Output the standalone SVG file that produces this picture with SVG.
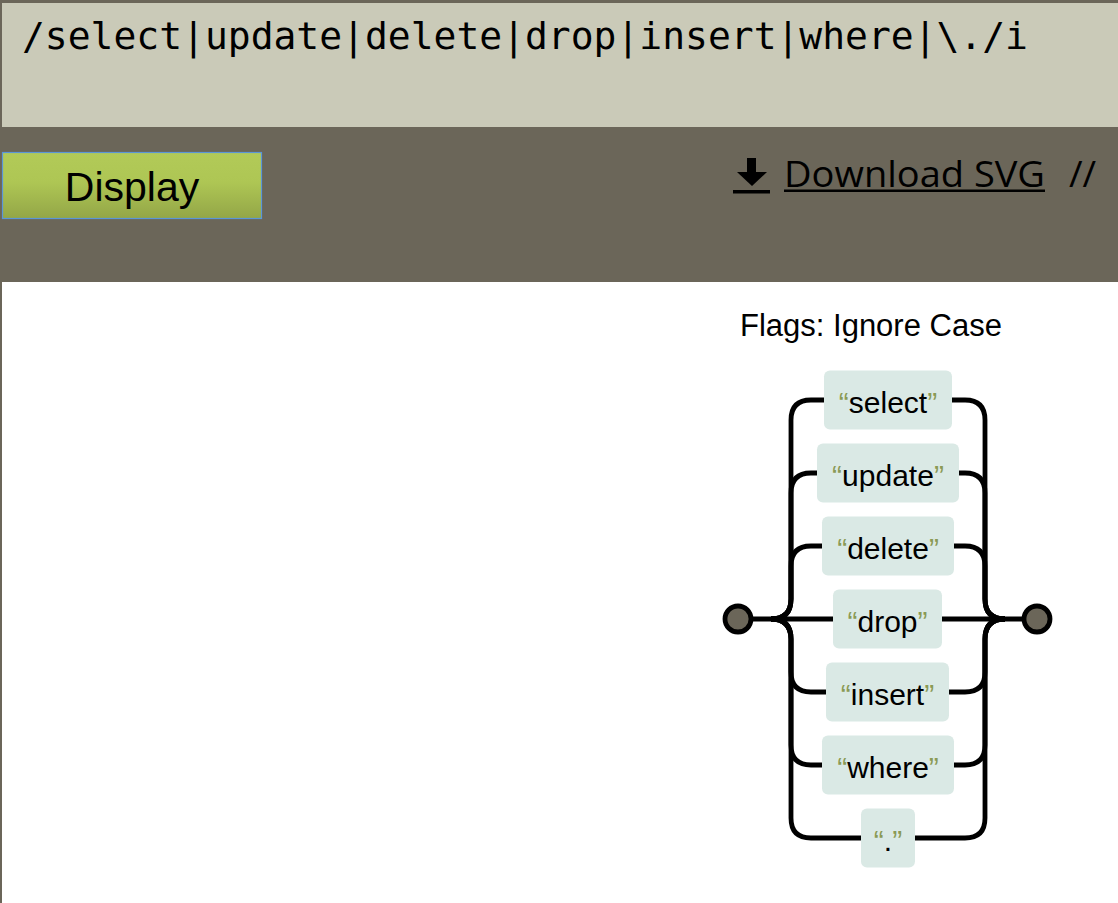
<svg xmlns="http://www.w3.org/2000/svg" width="1118" height="903" viewBox="0 0 1118 903">
<style>
.node rect{fill:#dae9e5}
.node text{font-family:"Liberation Sans",Arial,sans-serif;font-size:30px;fill:#000;text-anchor:middle}
.q{fill:#8a9a55}
.conn path{fill:none;stroke:#000;stroke-width:4.8}
.term{fill:#6b6659;stroke:#000;stroke-width:4.8}
</style>
<rect x="0" y="0" width="1118" height="903" fill="#fff"/>
<rect x="0" y="0" width="1118" height="282" fill="#6b6659"/>
<rect x="2" y="3" width="1116" height="124" fill="#cacab8"/>
<rect x="0" y="0" width="2" height="903" fill="#6b6659"/>
<text x="22" y="49" font-family="'DejaVu Sans Mono',monospace" font-size="38" fill="#000" textLength="1006" lengthAdjust="spacingAndGlyphs">/select|update|delete|drop|insert|where|\./i</text>
<defs>
<linearGradient id="btn" x1="0" y1="0" x2="0" y2="1">
<stop offset="0" stop-color="#b2ca58"/>
<stop offset="0.45" stop-color="#aec654"/>
<stop offset="1" stop-color="#93a647"/>
</linearGradient>
</defs>
<g id="display-button">
<rect x="2.5" y="152.5" width="259" height="66" fill="url(#btn)" stroke="#5a96d8" stroke-width="1.2"/>
<text x="132" y="201" font-family="'Liberation Sans',Arial,sans-serif" font-size="41" text-anchor="middle" fill="#000">Display</text>
</g>
<g id="download">
<rect x="747" y="158" width="9" height="15" fill="#000"/>
<polygon points="737,172 767,172 752,186" fill="#000"/>
<rect x="733" y="190" width="37" height="3.5" fill="#000"/>
<text x="784" y="187" font-family="'Open Sans',sans-serif" font-size="37" fill="#000" textLength="261" lengthAdjust="spacingAndGlyphs">Download SVG</text>
<rect x="784" y="189.5" width="261" height="2.5" fill="#000"/>
<text x="1069" y="187" font-family="'Open Sans',sans-serif" font-size="37" fill="#000">//</text>
</g>
<text x="740" y="336" font-family="'Liberation Sans',Arial,sans-serif" font-size="31" fill="#000">Flags: Ignore Case</text>
<g class="conn" id="connectors">
<path d="M751,619 H833"/>
<path d="M942,619 H1024"/>
<path d="M771,619 q20,0 20,-20 V420 q0,-20 20,-20 H824"/>
<path d="M771,619 q20,0 20,-20 V493 q0,-20 20,-20 H817"/>
<path d="M771,619 q20,0 20,-20 V566 q0,-20 20,-20 H822"/>
<path d="M771,619 q20,0 20,20 V672 q0,20 20,20 H826"/>
<path d="M771,619 q20,0 20,20 V745 q0,20 20,20 H822"/>
<path d="M771,619 q20,0 20,20 V818 q0,20 20,20 H861"/>
<path d="M952,400 H965 q20,0 20,20 V599 q0,20 20,20"/>
<path d="M959,473 H965 q20,0 20,20 V599 q0,20 20,20"/>
<path d="M954,546 H965 q20,0 20,20 V599 q0,20 20,20"/>
<path d="M949,692 H965 q20,0 20,-20 V639 q0,-20 20,-20"/>
<path d="M954,765 H965 q20,0 20,-20 V639 q0,-20 20,-20"/>
<path d="M915,838 H965 q20,0 20,-20 V639 q0,-20 20,-20"/>
</g>
<g id="start"><circle class="term" cx="738" cy="619" r="13"/></g>
<g id="end"><circle class="term" cx="1037" cy="619" r="13"/></g>
<g class="node" id="n-select"><rect x="824" y="370.5" width="128" height="59" rx="6"/><text x="888" y="412.5"><tspan class="q">“</tspan>select<tspan class="q">”</tspan></text></g>
<g class="node" id="n-update"><rect x="817" y="443.5" width="142" height="59" rx="6"/><text x="888" y="485.5"><tspan class="q">“</tspan>update<tspan class="q">”</tspan></text></g>
<g class="node" id="n-delete"><rect x="822" y="516.5" width="132" height="59" rx="6"/><text x="888" y="558.5"><tspan class="q">“</tspan>delete<tspan class="q">”</tspan></text></g>
<g class="node" id="n-drop"><rect x="833" y="589.5" width="109" height="59" rx="6"/><text x="887.5" y="631.5"><tspan class="q">“</tspan>drop<tspan class="q">”</tspan></text></g>
<g class="node" id="n-insert"><rect x="826" y="662.5" width="123" height="59" rx="6"/><text x="887.5" y="704.5"><tspan class="q">“</tspan>insert<tspan class="q">”</tspan></text></g>
<g class="node" id="n-where"><rect x="822" y="735.5" width="132" height="59" rx="6"/><text x="888" y="777.5"><tspan class="q">“</tspan>where<tspan class="q">”</tspan></text></g>
<g class="node" id="n-dot"><rect x="861" y="808.5" width="54" height="59" rx="6"/><text x="888" y="850.5"><tspan class="q">“</tspan>.<tspan class="q">”</tspan></text></g>
</svg>
